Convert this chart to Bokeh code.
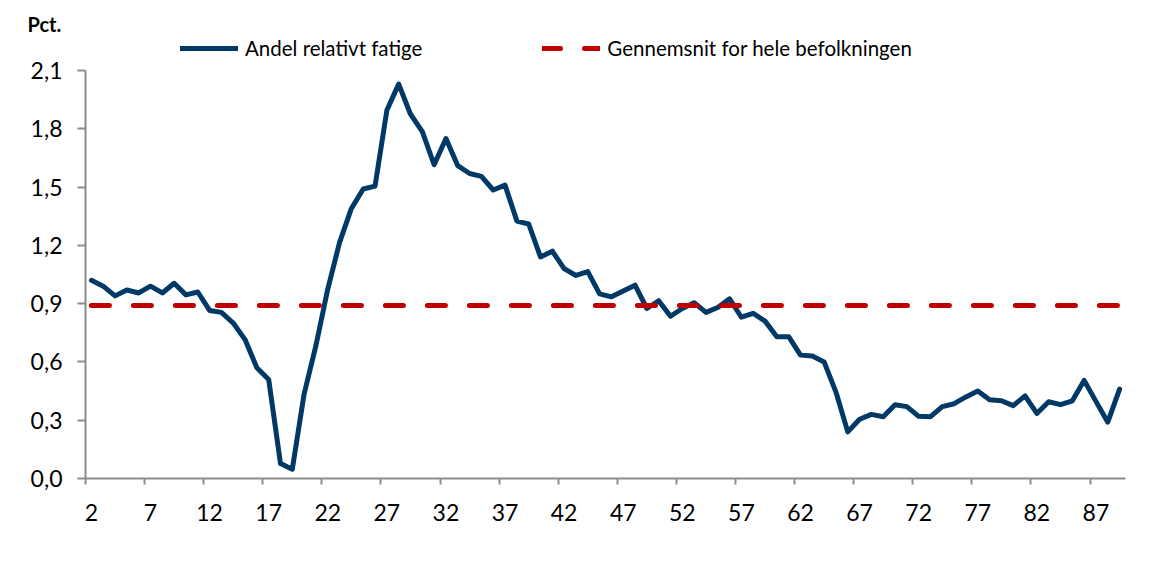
from bokeh.plotting import figure
from bokeh.models import FixedTicker, Legend, LegendItem
from bokeh.embed import file_html
from bokeh.resources import INLINE

AGES = [2, 3, 4, 5, 6, 7, 8, 9, 10, 11, 12, 13, 14, 15, 16, 17, 18, 19, 20, 21,
        22, 23, 24, 25, 26, 27, 28, 29, 30, 31, 32, 33, 34, 35, 36, 37, 38, 39, 40, 41,
        42, 43, 44, 45, 46, 47, 48, 49, 50, 51, 52, 53, 54, 55, 56, 57, 58, 59, 60, 61,
        62, 63, 64, 65, 66, 67, 68, 69, 70, 71, 72, 73, 74, 75, 76, 77, 78, 79, 80, 81,
        82, 83, 84, 85, 86, 87, 88, 89]

SHARE = [1.02, 0.99, 0.94, 0.97, 0.955, 0.99, 0.955, 1.005, 0.945, 0.96,
         0.865, 0.855, 0.80, 0.715, 0.57, 0.51, 0.077, 0.048, 0.435, 0.685,
         0.975, 1.215, 1.39, 1.49, 1.505, 1.895, 2.03, 1.875, 1.785, 1.615,
         1.75, 1.61, 1.57, 1.555, 1.485, 1.51, 1.325, 1.31, 1.14, 1.17,
         1.08, 1.045, 1.065, 0.95, 0.935, 0.965, 0.995, 0.875, 0.915, 0.835,
         0.875, 0.905, 0.855, 0.88, 0.925, 0.83, 0.85, 0.81, 0.73, 0.73,
         0.635, 0.63, 0.60, 0.445, 0.24, 0.305, 0.33, 0.318, 0.38, 0.37,
         0.32, 0.318, 0.37, 0.385, 0.42, 0.45, 0.405, 0.40, 0.375, 0.425,
         0.335, 0.395, 0.38, 0.40, 0.505, 0.397, 0.29, 0.46]

AVERAGE = 0.89

X_TICKS = [2, 7, 12, 17, 22, 27, 32, 37, 42, 47, 52, 57, 62, 67, 72, 77, 82, 87]
X_TICK_LABELS = ["2", "7", "12", "17", "22", "27", "32", "37", "42", "47", "52",
                 "57", "62", "67", "72", "77", "82", "87"]
Y_TICKS = [0.0, 0.3, 0.6, 0.9, 1.2, 1.5, 1.8, 2.1]
Y_TICK_LABELS = ["0,0", "0,3", "0,6", "0,9", "1,2", "1,5", "1,8", "2,1"]
SERIES_NAMES = ["Andel relativt fatige", "Gennemsnit for hele befolkningen"]
UNIT_LABEL = "Pct."

BLUE = "#003866"
RED = "#C00000"
AXIS_GRAY = "#8C8C8C"
FONT = "Lato"

# frame: top at 35 px, bottom at 478 px; value 2.1 sits at 70 px
FRAME_TOP_PX = 35
PX_PER_UNIT = 408 / Y_TICKS[-1]
Y_TOP = Y_TICKS[-1] + (70 - FRAME_TOP_PX) / PX_PER_UNIT

p = figure(width=1138, height=562, output_backend="svg", toolbar_location=None,
           x_range=(AGES[0] - 0.5, AGES[-1] + 0.5), y_range=(Y_TICKS[0], Y_TOP),
           min_border_left=85, min_border_right=13, min_border_top=FRAME_TOP_PX,
           min_border_bottom=84)
p.outline_line_color = None
p.grid.visible = False
p.background_fill_color = "white"
p.border_fill_color = "white"

r_share = p.line(AGES, SHARE, line_color=BLUE, line_width=5,
                 line_join="round", line_cap="round")
r_avg = p.line(AGES, [AVERAGE] * len(AGES), line_color=RED, line_width=5,
               line_dash="18 24", line_cap="round")

xa = p.xaxis[0]
xa.ticker = FixedTicker(ticks=X_TICKS, minor_ticks=[t - 0.5 for t in X_TICKS])
xa.major_label_overrides = dict(zip(X_TICKS, X_TICK_LABELS))
xa.major_tick_line_color = None
xa.major_tick_in = 0
xa.major_tick_out = 6
xa.minor_tick_line_color = AXIS_GRAY
xa.minor_tick_line_width = 2
xa.minor_tick_in = 0
xa.minor_tick_out = 6
xa.axis_line_color = AXIS_GRAY
xa.axis_line_width = 2
xa.major_label_standoff = 19
xa.major_label_text_font = FONT
xa.major_label_text_font_size = "23px"
xa.major_label_text_color = "black"

ya = p.yaxis[0]
ya.bounds = (Y_TICKS[0], Y_TICKS[-1])
ya.ticker = FixedTicker(ticks=Y_TICKS, minor_ticks=[])
ya.major_label_overrides = dict(zip(Y_TICKS, Y_TICK_LABELS))
ya.major_tick_line_color = AXIS_GRAY
ya.major_tick_line_width = 2
ya.major_tick_in = 0
ya.major_tick_out = 8
ya.minor_tick_line_color = None
ya.axis_line_color = AXIS_GRAY
ya.axis_line_width = 2
ya.major_label_standoff = 15
ya.major_label_text_font = FONT
ya.major_label_text_font_size = "23px"
ya.major_label_text_color = "black"

legend = Legend(items=[LegendItem(label=SERIES_NAMES[0], renderers=[r_share]),
                       LegendItem(label=SERIES_NAMES[1], renderers=[r_avg])],
                orientation="horizontal", location=(95, 418),
                glyph_width=58, glyph_height=20, label_height=20,
                label_standoff=7, spacing=120,
                padding=0, margin=0, border_line_color=None,
                background_fill_alpha=0, label_text_font=FONT,
                label_text_font_size="20.5px", label_text_color="black")
p.add_layout(legend)

p.title.text = UNIT_LABEL
p.title.align = "left"
p.title.offset = -58
p.title.standoff = 0
p.title.vertical_align = "bottom"
p.title.text_font = FONT
p.title.text_font_style = "bold"
p.title.text_font_size = "20px"
p.title.text_color = "black"

open("out.html", "w").write(file_html(p, INLINE))
